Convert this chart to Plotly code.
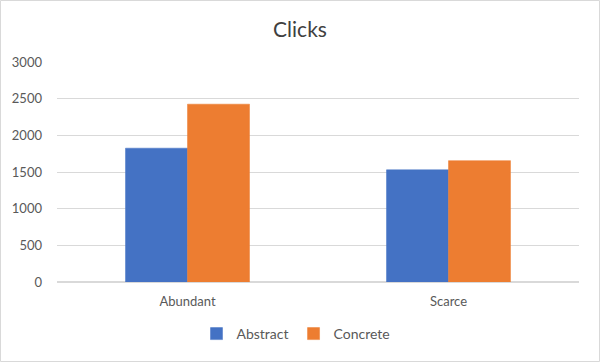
import plotly.graph_objects as go

categories = ["Abundant", "Scarce"]
abstract_vals = [1825, 1530]
concrete_vals = [2425, 1655]
y_ticks = [0, 500, 1000, 1500, 2000, 2500, 3000]

W, H = 600, 362
L, R, T, B = 57, 21, 62, 80

fig = go.Figure()
fig.add_trace(go.Bar(name="Abstract", x=categories, y=abstract_vals,
                     marker=dict(color="#4472C4", line=dict(color="#4472C4", width=0.5))))
fig.add_trace(go.Bar(name="Concrete", x=categories, y=concrete_vals,
                     marker=dict(color="#ED7D31", line=dict(color="#ED7D31", width=0.5))))

pw = W - L - R
ph = H - T - B
fig.update_layout(
    width=W, height=H,
    margin=dict(l=L, r=R, t=T, b=B, pad=0, autoexpand=False),
    paper_bgcolor="white", plot_bgcolor="white",
    font=dict(family="Lato, Open Sans, sans-serif", color="#595959", size=13),
    title=dict(text="Clicks", x=0.5, xanchor="center", xref="container",
               y=1 - 30 / H, yref="container", yanchor="middle",
               font=dict(size=21, color="#404040")),
    barmode="group", bargap=0.525, bargroupgap=0,
    showlegend=True,
    legend=dict(orientation="h", x=(296 - L) / pw, xanchor="center",
                y=-(334 - (H - B)) / ph, yanchor="middle",
                font=dict(size=14, color="#595959"),
                traceorder="normal"),
    xaxis=dict(showgrid=False, showline=False, zeroline=False, ticks="",
               tickfont=dict(size=13), ticklabelstandoff=10),
    yaxis=dict(range=[0, 3000], tickvals=y_ticks, showgrid=True, gridcolor="#D9D9D9",
               gridwidth=1, zeroline=True, zerolinecolor="#D9D9D9", showline=False,
               ticks="", tickfont=dict(size=13), ticklabelstandoff=14),
    shapes=[dict(type="rect", xref="paper", yref="paper",
                 x0=(-L + 0.5) / pw, x1=1 + (R - 0.5) / pw,
                 y0=(-B + 0.5) / ph, y1=1 + (T - 0.5) / ph,
                 line=dict(color="#D9D9D9", width=1), fillcolor="rgba(0,0,0,0)",
                 layer="below")],
)

fig.write_html("out.html", config={"displayModeBar": False},
               post_script="document.body.style.margin='0';")
